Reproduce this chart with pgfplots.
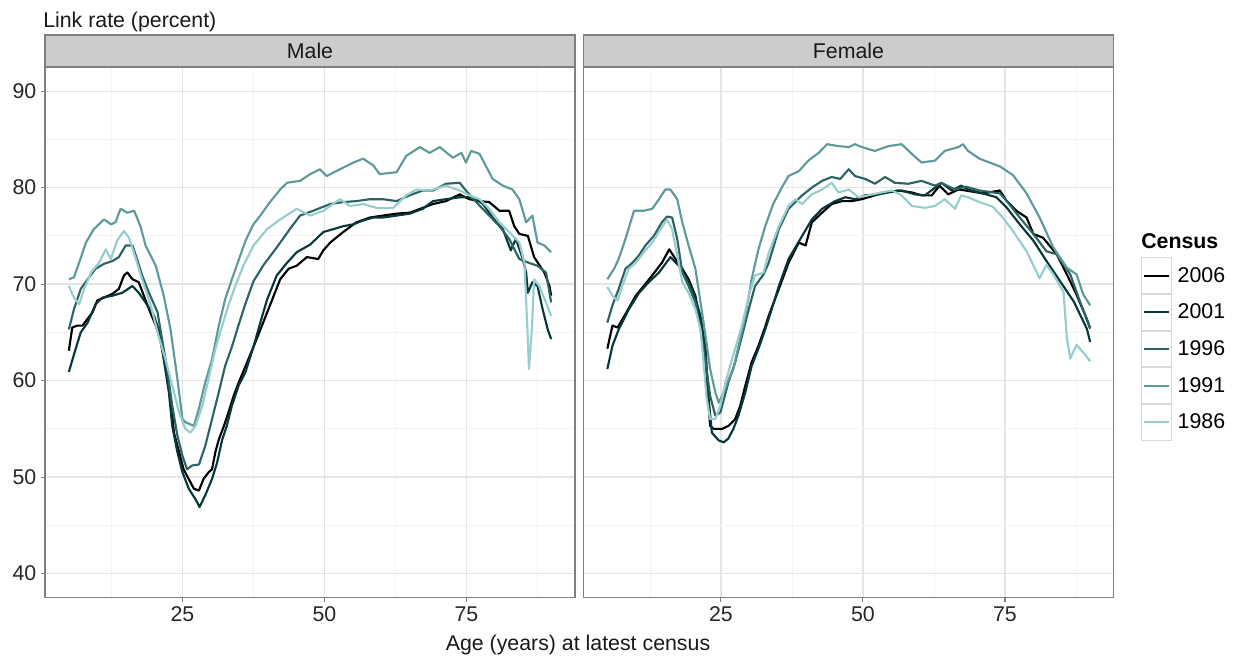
\documentclass[border=0pt]{standalone}
\usepackage{fontspec}
\setmainfont{Liberation Sans}
\usepackage{pgfplots}
\pgfplotsset{compat=1.18}

\definecolor{c2006}{HTML}{000000}
\definecolor{c2001}{HTML}{073838}
\definecolor{c1996}{HTML}{2C6464}
\definecolor{c1991}{HTML}{5E9A9A}
\definecolor{c1986}{HTML}{97CDCD}
\definecolor{stripfill}{HTML}{CCCCCC}
\definecolor{panelborder}{HTML}{7F7F7F}
\definecolor{gridmaj}{HTML}{E5E5E5}
\definecolor{gridmin}{HTML}{F4F4F4}

\newcommand{\fs}{\fontsize{16}{19}\selectfont}

\pgfplotsset{
  facet/.style={
    scale only axis, width=397.5pt, height=398pt,
    anchor=north west,
    xmin=0.8, xmax=94.1, ymin=37.5, ymax=92.5,
    xtick={25,50,75}, ytick={40,50,60,70,80,90},
    minor xtick={12.5,37.5,62.5,87.5}, minor ytick={45,55,65,75,85},
    grid=both,
    major grid style={gridmaj, line width=0.9pt},
    minor grid style={gridmin, line width=0.6pt},
    axis line style={panelborder, line width=0.8pt},
    tick align=outside, major tick length=3pt, minor tick length=0pt,
    tick style={panelborder, line width=0.8pt},
    xtick pos=bottom, ytick pos=left,
    tick label style={font=\fs, text=black!85},
    /pgf/number format/assume math mode=true,
    clip=false,
    every axis plot/.append style={line width=1.6pt, line join=round},
  },
}

\begin{document}
\begin{tikzpicture}
\useasboundingbox (0,0) rectangle (928.5pt,-492.75pt);

% ---------------- Male ----------------
\begin{axis}[facet, at={(33.75pt,-50.25pt)}]
\addplot[c2006] coordinates {
(5.0,63.1)(5.6,65.5)(6.5,65.7)(7.4,65.7)(8.3,66.4)(9.2,67.1)(10.0,68.3)(11.2,68.6)(12.7,69.0)(13.8,69.5)(14.7,70.9)(15.3,71.2)(16.2,70.5)(17.3,70.2)(18.2,68.8)(19.1,67.4)(20.3,65.7)(21.1,64.3)(22.0,61.5)(22.9,58.4)(23.5,54.6)(24.4,52.6)(25.2,50.8)(26.1,49.8)(27.0,48.8)(27.9,48.6)(28.7,49.8)(29.6,50.5)(30.2,50.8)(30.8,52.6)(31.4,53.9)(32.3,55.3)(33.1,56.7)(34.0,58.4)(34.9,59.8)(36.1,61.5)(37.5,63.5)(39.0,65.7)(40.4,67.8)(42.2,70.5)(43.7,71.6)(45.1,71.9)(46.9,72.8)(48.9,72.6)(49.8,73.5)(51.0,74.3)(53.3,75.4)(55.6,76.4)(58.0,76.9)(60.3,77.1)(62.7,77.3)(65.0,77.4)(67.3,77.9)(69.1,78.3)(71.4,78.6)(73.8,79.3)(75.5,78.8)(77.3,78.6)(79.0,78.5)(80.8,77.6)(82.5,77.6)(83.4,76.0)(84.3,75.2)(85.8,75.0)(86.9,72.8)(88.7,71.2)(89.6,69.8)(89.9,68.8)
};
\addplot[c2001] coordinates {
(5.0,60.9)(6.2,63.3)(7.1,65.0)(8.3,66.0)(9.7,67.9)(10.9,68.6)(12.7,68.8)(14.4,69.1)(16.2,69.8)(17.3,69.1)(18.5,68.1)(20.0,66.7)(20.8,65.3)(21.7,62.2)(22.6,58.8)(23.2,55.3)(24.1,52.6)(25.0,50.5)(26.1,48.8)(27.3,47.7)(28.0,46.9)(29.0,48.1)(30.2,49.8)(31.1,51.5)(32.0,53.9)(32.8,55.3)(33.7,57.4)(34.9,59.5)(36.1,60.9)(37.5,63.5)(38.7,66.0)(39.9,68.4)(41.6,70.9)(43.4,72.2)(45.1,73.3)(47.5,74.1)(49.8,75.4)(51.6,75.7)(53.3,76.0)(55.1,76.2)(56.8,76.6)(58.6,76.9)(60.3,76.9)(62.7,77.1)(65.0,77.3)(67.3,77.8)(69.1,78.6)(71.4,78.8)(73.8,79.0)(76.1,79.0)(77.9,78.3)(79.6,76.9)(81.4,75.7)(82.8,73.5)(83.7,74.7)(84.9,72.6)(85.5,71.2)(85.8,69.1)(86.6,70.2)(87.5,69.8)(88.4,67.4)(89.3,65.3)(89.9,64.3)
};
\addplot[c1996] coordinates {
(5.0,65.3)(5.9,67.4)(7.1,69.5)(8.3,70.5)(9.7,71.6)(11.2,72.1)(12.7,72.4)(13.8,72.8)(15.0,74.0)(16.2,74.0)(17.0,72.6)(17.9,70.9)(19.1,69.1)(20.6,67.1)(21.4,64.3)(22.3,61.2)(23.2,57.4)(24.1,54.3)(25.0,52.2)(25.8,50.8)(26.7,51.2)(27.9,51.3)(29.0,53.2)(30.2,56.0)(31.4,58.8)(32.5,61.5)(33.7,63.5)(34.9,65.8)(36.1,68.0)(37.5,70.3)(39.3,72.0)(41.6,73.8)(43.9,75.7)(45.7,77.1)(48.0,77.6)(51.0,78.3)(53.3,78.5)(55.6,78.6)(58.0,78.8)(60.3,78.8)(62.7,78.6)(65.0,79.2)(67.3,79.7)(69.1,79.7)(71.4,80.4)(73.8,80.5)(74.9,79.7)(76.7,78.5)(79.0,77.1)(80.8,76.0)(82.5,74.7)(84.3,72.6)(86.0,72.2)(87.5,71.9)(89.0,71.2)(89.9,68.1)
};
\addplot[c1991] coordinates {
(5.0,70.5)(5.9,70.7)(6.8,72.2)(8.0,74.3)(9.4,75.7)(11.2,76.7)(12.4,76.2)(13.2,76.4)(14.1,77.8)(15.3,77.4)(16.5,77.6)(17.6,76.0)(18.5,74.0)(20.3,71.9)(21.7,68.8)(22.9,65.3)(24.1,60.2)(25.0,56.0)(25.5,55.7)(27.0,55.3)(27.9,57.1)(29.0,59.8)(30.2,62.2)(31.4,65.7)(32.5,68.4)(33.7,70.5)(34.9,72.5)(36.1,74.5)(37.5,76.2)(38.7,77.1)(40.4,78.5)(42.2,79.8)(43.4,80.5)(45.7,80.7)(47.5,81.4)(49.2,81.9)(50.4,81.2)(52.7,81.9)(55.1,82.6)(56.8,83.0)(58.6,82.3)(59.7,81.4)(62.7,81.6)(64.4,83.3)(66.8,84.2)(68.5,83.6)(70.3,84.2)(72.6,83.1)(74.1,83.6)(74.9,82.6)(75.8,83.8)(77.3,83.5)(79.6,80.9)(81.4,80.2)(83.1,79.8)(84.3,78.8)(85.5,76.4)(86.6,77.1)(87.5,74.3)(88.7,74.0)(89.9,73.3)
};
\addplot[c1986] coordinates {
(5.0,69.8)(5.9,68.6)(6.8,67.9)(7.7,69.5)(8.9,71.2)(10.3,72.2)(11.5,73.6)(12.4,72.6)(13.5,74.5)(14.7,75.5)(15.6,74.8)(16.8,72.6)(17.9,70.5)(19.4,67.8)(20.8,64.6)(22.0,62.2)(23.2,59.5)(24.4,56.7)(25.5,55.0)(26.4,54.6)(27.3,55.3)(28.5,57.4)(29.6,60.2)(30.8,63.3)(32.0,65.7)(33.1,67.8)(34.3,69.8)(35.8,72.0)(37.5,74.0)(39.9,75.7)(42.2,76.7)(45.1,77.8)(47.5,77.1)(49.8,77.6)(52.7,78.8)(54.5,78.1)(56.8,78.3)(59.2,77.9)(62.1,77.9)(64.4,79.2)(66.2,79.8)(68.5,79.7)(71.4,80.2)(73.8,79.7)(75.5,79.2)(77.3,78.8)(79.0,77.8)(80.8,76.4)(82.5,75.4)(84.3,74.3)(85.2,72.2)(85.8,64.3)(86.0,61.2)(86.5,65.3)(86.9,70.5)(87.8,69.8)(89.0,68.1)(89.9,66.7)
};
\draw[fill=stripfill, draw=panelborder, line width=0.8pt] (rel axis cs:0,1) rectangle ([yshift=24pt]rel axis cs:1,1);
\node[font=\fs, text=black!90] at ([yshift=12pt]rel axis cs:0.5,1) {Male};
\end{axis}

% ---------------- Female ----------------
\begin{axis}[facet, at={(437.6pt,-50.25pt)},
  yticklabels={}, ytick style={draw=none},
  legend cell align=left,
  legend style={at={(1.052,0.642)}, anchor=north west, draw=none, fill=none,
    inner sep=0pt, row sep=0pt, font=\fs,
    nodes={inner xsep=4pt, inner ysep=0pt}},
  legend image code/.code={
    \draw[black!15, fill=white, line width=0.8pt] (0pt,-13.35pt) rectangle (22.5pt,13.35pt);
    \draw[#1, line width=1.6pt] (1.8pt,0pt) -- (20.7pt,0pt);
  },
]
\addplot[c2006] coordinates {
(5.0,63.3)(5.9,65.7)(6.8,65.5)(8.2,66.9)(10.0,68.8)(11.4,69.8)(12.9,70.9)(14.6,72.2)(15.9,73.6)(17.0,72.6)(18.2,71.6)(19.3,70.5)(20.5,68.8)(21.4,66.0)(22.3,61.9)(22.8,57.7)(23.1,55.3)(23.7,55.0)(25.2,55.0)(26.3,55.3)(27.5,56.0)(28.4,57.4)(29.3,59.5)(30.4,61.9)(31.6,63.6)(32.8,65.6)(33.4,66.7)(35.2,69.5)(36.9,72.2)(38.7,74.3)(39.9,74.0)(41.0,76.4)(42.8,77.4)(44.5,78.3)(46.3,78.6)(48.0,78.6)(49.8,78.8)(52.1,79.2)(53.9,79.5)(56.2,79.7)(58.6,79.5)(60.3,79.2)(62.1,79.2)(63.5,80.2)(65.0,79.3)(66.8,79.8)(68.1,79.7)(71.1,79.4)(74.1,79.7)(75.2,78.7)(77.0,77.6)(78.8,76.9)(80.0,75.2)(81.7,74.8)(84.1,73.1)(85.9,71.0)(87.6,68.9)(89.4,66.4)(90.0,65.4)
};
\addlegendentry{2006}
\addplot[c2001] coordinates {
(5.0,61.2)(5.9,63.6)(7.0,65.3)(8.8,67.4)(10.6,69.1)(12.3,70.2)(14.1,71.2)(16.1,72.8)(17.6,71.9)(18.7,70.9)(20.2,69.1)(21.4,66.7)(22.3,63.3)(22.8,58.4)(23.4,54.6)(24.6,53.8)(25.5,53.6)(26.3,54.0)(27.2,55.0)(28.1,56.4)(29.3,58.8)(30.4,61.5)(31.6,63.3)(32.8,65.3)(33.4,66.4)(35.2,69.8)(36.9,72.6)(39.3,75.0)(41.0,76.7)(42.8,77.8)(45.1,78.6)(46.9,79.0)(48.6,78.8)(50.4,79.2)(52.7,79.3)(54.5,79.5)(56.8,79.7)(59.2,79.3)(60.9,79.2)(62.7,80.0)(63.8,80.5)(65.6,79.7)(67.3,80.2)(68.5,79.8)(71.1,79.4)(73.5,79.0)(75.2,78.0)(77.6,76.2)(80.0,74.5)(82.3,72.4)(84.7,70.3)(87.1,68.2)(89.4,65.4)(90.0,64.0)
};
\addlegendentry{2001}
\addplot[c1996] coordinates {
(5.0,66.0)(5.9,67.8)(7.0,69.5)(8.2,71.6)(9.4,72.2)(10.6,73.0)(11.7,74.0)(13.2,75.0)(14.6,76.4)(15.5,77.0)(16.4,76.9)(17.3,74.7)(18.2,71.2)(19.3,69.8)(20.5,68.1)(21.4,65.3)(22.3,61.9)(23.1,58.4)(24.0,56.4)(24.9,56.7)(26.3,59.8)(27.5,61.9)(28.7,64.6)(29.9,67.4)(31.0,69.8)(32.5,71.0)(33.4,72.2)(35.2,75.7)(36.9,77.8)(39.3,79.2)(41.0,80.0)(42.8,80.7)(44.5,81.1)(46.0,80.9)(47.5,81.9)(48.6,81.2)(50.4,80.9)(52.1,80.4)(53.9,81.1)(55.6,80.5)(58.0,80.4)(60.3,80.7)(62.7,80.2)(63.8,80.5)(66.2,79.8)(68.1,80.1)(70.5,79.7)(74.1,79.4)(75.2,78.7)(77.6,76.9)(80.0,75.2)(82.3,73.4)(84.1,73.1)(86.5,71.0)(88.2,68.2)(90.0,65.4)
};
\addlegendentry{1996}
\addplot[c1991] coordinates {
(5.0,70.5)(6.2,71.6)(7.0,72.6)(8.2,74.7)(9.7,77.6)(11.4,77.6)(12.9,77.8)(14.1,78.8)(15.2,79.8)(16.1,79.8)(17.3,78.8)(18.2,76.4)(19.3,74.0)(20.5,71.6)(21.4,68.1)(22.3,64.6)(23.1,61.2)(24.0,58.8)(24.6,57.7)(25.5,58.8)(26.4,60.2)(27.2,61.2)(28.1,63.6)(29.3,66.7)(30.4,70.5)(31.6,73.6)(32.8,76.0)(34.2,78.3)(35.7,80.0)(36.9,81.2)(38.7,81.7)(40.4,82.8)(42.2,83.6)(43.7,84.5)(45.7,84.3)(47.5,84.2)(48.6,84.5)(49.8,84.2)(52.1,83.8)(54.5,84.3)(56.8,84.5)(58.6,83.5)(60.3,82.6)(62.7,82.8)(64.4,83.8)(66.8,84.2)(67.6,84.5)(68.5,83.8)(70.5,83.0)(74.1,82.2)(76.4,81.3)(78.8,79.4)(81.1,76.9)(83.5,73.8)(85.9,71.7)(87.6,71.0)(88.8,68.9)(90.0,67.8)
};
\addlegendentry{1991}
\addplot[c1986] coordinates {
(5.0,69.7)(5.9,68.8)(6.8,68.3)(7.6,69.8)(8.8,71.6)(10.0,72.2)(11.4,73.3)(12.9,74.3)(14.4,75.7)(15.5,76.7)(16.4,75.7)(17.3,73.0)(18.2,70.2)(19.3,69.1)(20.5,67.4)(21.4,65.3)(21.9,62.2)(22.5,58.1)(23.1,56.0)(24.0,56.0)(24.9,57.4)(25.8,59.8)(26.6,61.5)(27.5,63.3)(28.7,65.7)(29.9,68.8)(31.0,70.9)(32.5,71.2)(33.4,73.2)(35.2,76.0)(36.9,78.1)(38.1,78.8)(39.3,78.3)(41.0,79.3)(42.8,79.8)(44.5,80.5)(45.7,79.5)(47.5,79.8)(49.2,79.0)(50.9,79.2)(53.3,79.5)(55.1,79.7)(56.8,79.2)(58.6,78.1)(60.9,77.9)(62.7,78.1)(64.4,78.8)(66.2,77.8)(67.3,79.2)(68.5,79.0)(70.5,78.5)(72.9,78.0)(74.6,76.9)(76.4,75.5)(78.8,73.4)(81.1,70.6)(82.3,72.0)(83.5,71.0)(85.3,69.2)(85.9,64.4)(86.5,62.3)(87.6,63.7)(88.8,62.9)(90.0,62.0)
};
\addlegendentry{1986}
\draw[fill=stripfill, draw=panelborder, line width=0.8pt] (rel axis cs:0,1) rectangle ([yshift=24pt]rel axis cs:1,1);
\node[font=\fs, text=black!90] at ([yshift=12pt]rel axis cs:0.5,1) {Female};
\node[font=\fs\bfseries, anchor=base west, inner sep=0pt] at ([yshift=6pt]axis description cs:1.052,0.642) {Census};
\end{axis}

\node[font=\fs, anchor=base west, inner sep=0pt, text=black!90] at (32.25pt,-20.25pt) {Link rate (percent)};
\node[font=\fs, anchor=base, inner sep=0pt, text=black!90] at (433.5pt,-487.5pt) {Age (years) at latest census};
\end{tikzpicture}
\end{document}
